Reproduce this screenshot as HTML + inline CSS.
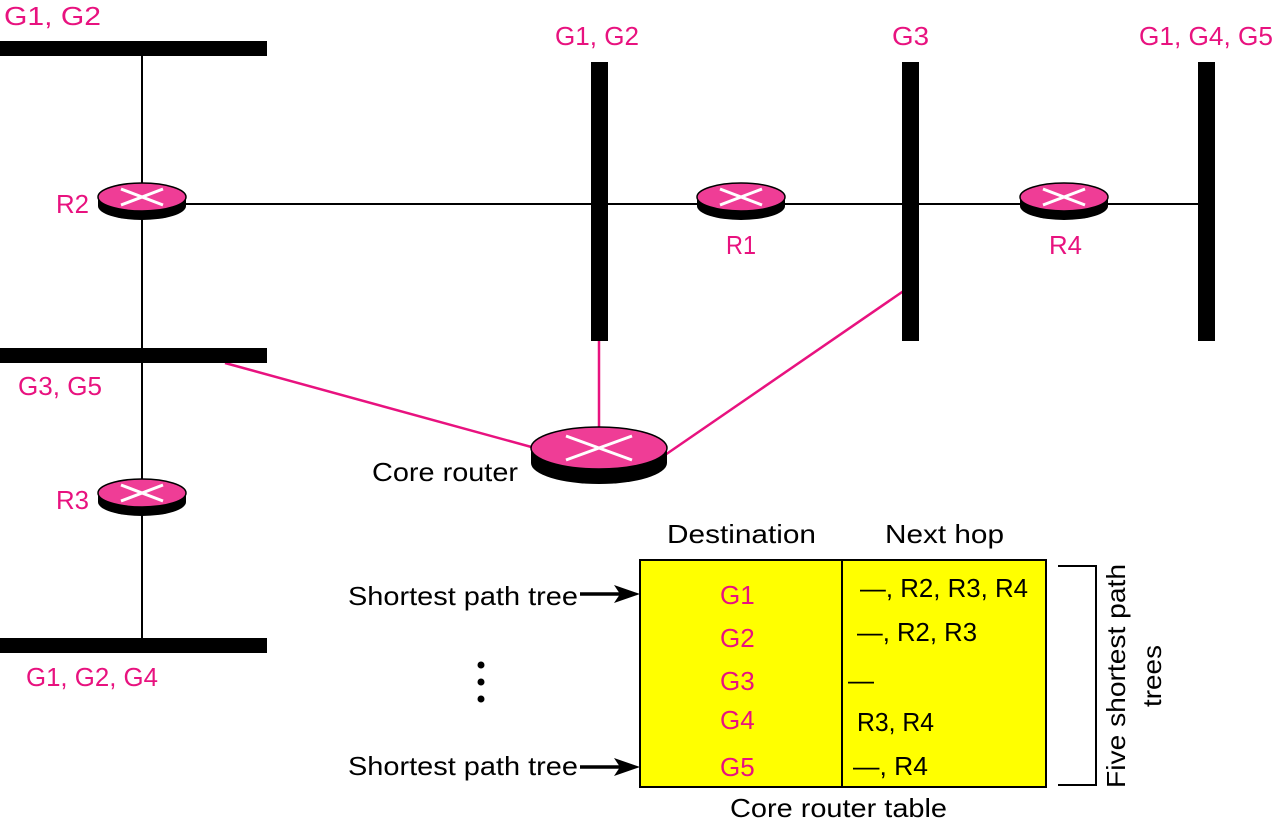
<!DOCTYPE html>
<html><head><meta charset="utf-8"><style>
html,body{margin:0;padding:0;background:#fff;}
svg text{font-family:"Liberation Sans",sans-serif;}
</style></head><body>
<svg width="1274" height="827" viewBox="0 0 1274 827" xmlns="http://www.w3.org/2000/svg">
<defs>
<g id="rt">
<ellipse cx="0" cy="9" rx="44" ry="14" fill="#000"/>
<rect x="-44" y="0" width="88" height="9" fill="#000"/>
<ellipse cx="0" cy="0" rx="44" ry="14" fill="#ef3d96" stroke="#000" stroke-width="1.5"/>
<line x1="-21" y1="-8" x2="21" y2="8" stroke="#fff" stroke-width="3"/>
<line x1="-21" y1="8" x2="21" y2="-8" stroke="#fff" stroke-width="3"/>
</g>
</defs>
<line x1="142" y1="50" x2="142" y2="645" stroke="#000" stroke-width="2"/>
<line x1="185" y1="204" x2="1206" y2="204" stroke="#000" stroke-width="2"/>
<line x1="225" y1="363" x2="535" y2="448" stroke="#e8127f" stroke-width="2.5"/>
<line x1="599" y1="340" x2="599" y2="428" stroke="#e8127f" stroke-width="2.5"/>
<line x1="905" y1="290" x2="665" y2="455" stroke="#e8127f" stroke-width="2.5"/>
<rect x="0" y="41" width="267" height="15" fill="#000"/>
<rect x="0" y="348" width="267" height="15" fill="#000"/>
<rect x="0" y="638" width="267" height="15" fill="#000"/>
<rect x="591" y="62" width="17" height="279" fill="#000"/>
<rect x="902" y="62" width="17" height="279" fill="#000"/>
<rect x="1198" y="62" width="17" height="279" fill="#000"/>
<use href="#rt" x="142" y="197"/>
<use href="#rt" x="741" y="197"/>
<use href="#rt" x="1064" y="197"/>
<use href="#rt" x="142" y="493"/>
<g transform="translate(599,448)">
<ellipse cx="0" cy="15" rx="68" ry="21" fill="#000"/>
<rect x="-68" y="0" width="136" height="15" fill="#000"/>
<ellipse cx="0" cy="0" rx="68" ry="21" fill="#ef3d96" stroke="#000" stroke-width="1.5"/>
<line x1="-33" y1="-12" x2="33" y2="12" stroke="#fff" stroke-width="3"/>
<line x1="-33" y1="12" x2="33" y2="-12" stroke="#fff" stroke-width="3"/>
</g>
<g fill="#e8127f" font-size="26">
<text x="4" y="25" textLength="97" lengthAdjust="spacingAndGlyphs">G1, G2</text>
<text x="555" y="45" textLength="84" lengthAdjust="spacingAndGlyphs">G1, G2</text>
<text x="892" y="45" textLength="37" lengthAdjust="spacingAndGlyphs">G3</text>
<text x="1139" y="45" textLength="134" lengthAdjust="spacingAndGlyphs">G1, G4, G5</text>
<text x="56" y="213" textLength="33" lengthAdjust="spacingAndGlyphs">R2</text>
<text x="726" y="254" textLength="30" lengthAdjust="spacingAndGlyphs">R1</text>
<text x="1049" y="254" textLength="33" lengthAdjust="spacingAndGlyphs">R4</text>
<text x="18" y="395" textLength="84" lengthAdjust="spacingAndGlyphs">G3, G5</text>
<text x="56" y="509" textLength="33" lengthAdjust="spacingAndGlyphs">R3</text>
<text x="26" y="686" textLength="132" lengthAdjust="spacingAndGlyphs">G1, G2, G4</text>
</g>
<text x="372" y="481" font-size="26" textLength="146" lengthAdjust="spacingAndGlyphs">Core router</text>
<rect x="640" y="560" width="406" height="227" fill="#ffff00" stroke="#000" stroke-width="2"/>
<line x1="842" y1="560" x2="842" y2="787" stroke="#000" stroke-width="2"/>
<text x="667" y="543" font-size="26" textLength="149" lengthAdjust="spacingAndGlyphs">Destination</text>
<text x="885" y="543" font-size="26" textLength="119" lengthAdjust="spacingAndGlyphs">Next hop</text>
<g fill="#e8127f" font-size="26">
<text x="720" y="604">G1</text>
<text x="720" y="647">G2</text>
<text x="720" y="690">G3</text>
<text x="720" y="729">G4</text>
<text x="720" y="776">G5</text>
</g>
<g font-size="26">
<text x="860" y="597" textLength="168" lengthAdjust="spacingAndGlyphs">—, R2, R3, R4</text>
<text x="857" y="641" textLength="120" lengthAdjust="spacingAndGlyphs">—, R2, R3</text>
<text x="848" y="689">—</text>
<text x="857" y="731" textLength="77" lengthAdjust="spacingAndGlyphs">R3, R4</text>
<text x="853" y="775" textLength="75" lengthAdjust="spacingAndGlyphs">—, R4</text>
<text x="348" y="605" textLength="230" lengthAdjust="spacingAndGlyphs">Shortest path tree</text>
<text x="348" y="775" textLength="230" lengthAdjust="spacingAndGlyphs">Shortest path tree</text>
<text x="730" y="817" textLength="217" lengthAdjust="spacingAndGlyphs">Core router table</text>
</g>
<g stroke="#000" stroke-width="3.5">
<line x1="580" y1="594" x2="625" y2="594"/>
<line x1="580" y1="767" x2="625" y2="767"/>
</g>
<polygon points="640,594 614,585 620,594 614,603" fill="#000"/>
<polygon points="640,767 614,758 620,767 614,776" fill="#000"/>
<circle cx="481" cy="665" r="3.5" fill="#000"/>
<circle cx="481" cy="682" r="3.5" fill="#000"/>
<circle cx="481" cy="699" r="3.5" fill="#000"/>
<polyline points="1058,566 1096,566 1096,785 1058,785" fill="none" stroke="#000" stroke-width="2"/>
<text transform="translate(1125,676) rotate(-90)" text-anchor="middle" font-size="26" textLength="224" lengthAdjust="spacingAndGlyphs">Five shortest path</text>
<text transform="translate(1161,676) rotate(-90)" text-anchor="middle" font-size="26" textLength="62" lengthAdjust="spacingAndGlyphs">trees</text>
</svg>
</body></html>
